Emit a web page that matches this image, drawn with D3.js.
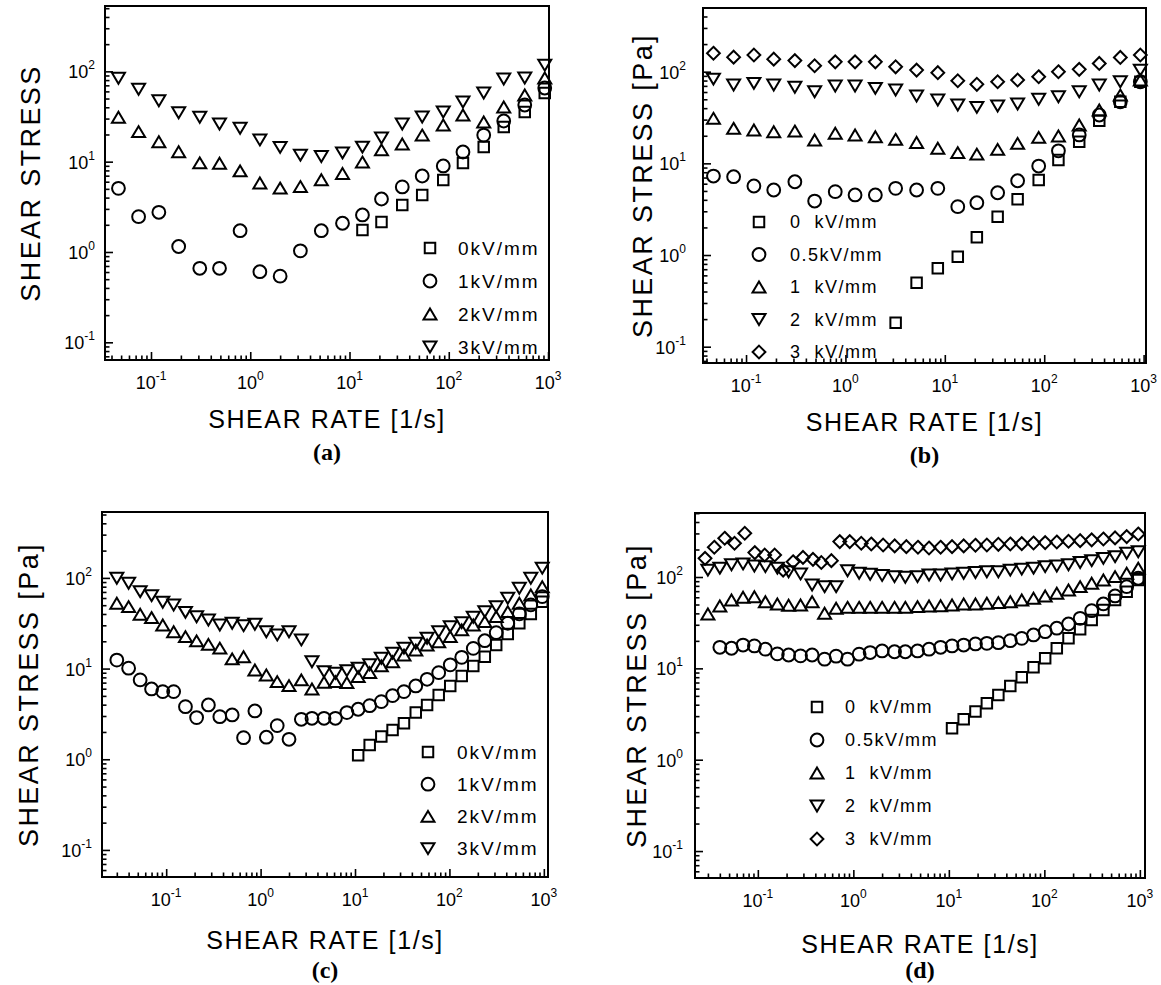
<!DOCTYPE html>
<html><head><meta charset="utf-8">
<script src="https://cdn.jsdelivr.net/npm/d3@7/dist/d3.min.js"></script>
<style>
body{margin:0;background:#fff;}
svg{display:block;background:#fff;}
text{font-family:"Liberation Sans",Arial,Helvetica,sans-serif;fill:#000;}
</style></head><body>
<svg id="chart" width="1161" height="985"></svg>
<script>
// ---------------- DATA ----------------
// shear rate grids [1/s]
const rateAB = [0.047, 0.075, 0.12, 0.19, 0.31, 0.49, 0.79, 1.25, 2.0, 3.2, 5.2, 8.5, 13.5, 21, 34, 54, 88, 139, 225, 358, 583, 927];
const rateCD = [0.030, 0.040, 0.053, 0.070, 0.092, 0.12, 0.16, 0.21, 0.28, 0.37, 0.50, 0.66, 0.87, 1.15, 1.5, 2.0, 2.7, 3.5, 4.7, 6.2, 8.2, 10.8, 14.3, 19, 25, 33, 44, 58, 77, 102, 135, 179, 237, 313, 415, 550, 728, 962];
const rateD3 = [0.028, 0.035, 0.045, 0.057, 0.073, 0.093, 0.118, 0.150, 0.184, 0.234, 0.297, 0.378, 0.462, 0.589, 0.721, 0.917, 1.21, 1.54, 2.05, 2.71, 3.59, 4.75, 6.2, 8.2, 10.8, 14.3, 19, 25, 33, 44, 58, 77, 102, 135, 179, 237, 313, 415, 550, 728, 962];

// panel (a) shear stress
const stressA0 = [null, null, null, null, null, null, null, null, null, null, null, null, 1.75, 2.15, 3.31, 4.27, 6.27, 9.67, 14.5, 24.2, 35.5, 57.6];
const stressA1 = [5.07, 2.46, 2.75, 1.15, 0.66, 0.66, 1.72, 0.605, 0.54, 1.03, 1.72, 2.08, 2.57, 3.86, 5.25, 6.94, 8.96, 12.8, 19.7, 28.2, 42.4, 65.4];
const stressA2 = [31, 21.5, 16.6, 12.9, 9.7, 9.6, 7.9, 5.8, 5.1, 5.3, 6.3, 7.4, 9.9, 13.5, 15.7, 19.7, 25.5, 32.9, 27.5, 40.3, 54.7, 84.4];
const stressA3 = [83.7, 63.3, 47.3, 34.8, 31, 26.1, 23.4, 17.4, 14.4, 11.8, 11.4, 12.5, 14.5, 18.3, 26.1, 31.2, 35.5, 45.8, 57.6, 82.2, 84.4, 117];

// panel (b)
const stressB0 = [null, null, null, null, null, null, null, null, null, 0.183, 0.499, 0.716, 0.958, 1.56, 2.62, 4.05, 6.58, 10.9, 17.2, 29.2, 47, 77.6];
const stressB1 = [7.27, 7.15, 5.66, 5.12, 6.3, 3.88, 4.91, 4.52, 4.52, 5.34, 5.12, 5.34, 3.37, 3.72, 4.78, 6.46, 9.35, 13.7, 20.4, 33.7, 47, 77.6];
const stressB2 = [31, 24.1, 23.1, 22.1, 22.5, 18, 21.3, 20.4, 19.5, 18.3, 16.9, 14.6, 13.1, 12.6, 14.2, 16.5, 19.2, 19.9, 26.2, 38.2, 55.6, 81.1];
const stressB3 = [83, 71.5, 74.6, 71.5, 67.5, 60.4, 69.8, 69.8, 65.8, 63.1, 54.2, 49.1, 43.3, 40.8, 42.2, 44.4, 50, 53.3, 60.4, 71.5, 77.6, 104];
const stressB4 = [159, 144, 152, 137, 132, 116, 128, 128, 128, 113, 104, 97.5, 79.6, 72.8, 77.6, 81.1, 88.1, 99.9, 106, 123, 143, 152];

// panel (c)
const stressC0 = [null, null, null, null, null, null, null, null, null, null, null, null, null, null, null, null, null, null, null, null, null, 1.11, 1.44, 1.78, 2.1, 2.49, 3.27, 3.97, 5.12, 6.43, 8.3, 10.7, 13.5, 18.2, 24.1, 31.6, 40.1, 54.7];
const stressC1 = [12.4, 10.1, 7.5, 5.96, 5.57, 5.57, 3.8, 2.88, 3.97, 2.95, 3.08, 1.73, 3.41, 1.75, 2.35, 1.66, 2.76, 2.83, 2.83, 2.83, 3.27, 3.56, 3.9, 4.32, 5.03, 5.57, 6.43, 7.62, 9.02, 11, 13.3, 16.7, 20.3, 24.9, 31.6, 40.1, 50.4, 62.2];
const stressC2 = [52.6, 48.2, 39.7, 36.5, 30.3, 25.5, 22.5, 20.2, 18.5, 16.8, 12.8, 13.5, 9.66, 8.5, 7.18, 6.49, 7.5, 5.96, 7.07, 7.18, 7.0, 8.15, 9.02, 10.7, 11.9, 14.1, 16, 18.2, 19.8, 22.5, 26.7, 30.3, 33, 37.4, 42.5, 52.5, 64.9, 80];
const stressC3 = [99.1, 87.3, 70.5, 63.7, 53.8, 50.2, 41.7, 37.3, 34.3, 30.2, 31.6, 29.7, 30.8, 25.5, 23.5, 25.5, 20.7, 11.9, 9.25, 8.89, 9.49, 10.1, 11, 13, 14.8, 16.8, 19, 21.6, 25.5, 29, 32.1, 36.8, 42.5, 48.2, 59.7, 76.9, 99.1, 128];

// panel (d)
const stressD0 = [null, null, null, null, null, null, null, null, null, null, null, null, null, null, null, null, null, null, null, null, null, 2.21, 2.77, 3.36, 4.15, 5.11, 6.41, 7.98, 10.3, 12.9, 16.6, 21.3, 26.8, 33.9, 43.6, 56.1, 69.1, 92.9];
const stressD1 = [null, 17, 16.6, 18, 17.6, 16.2, 14.4, 14, 13.7, 14, 12.6, 13.6, 12.6, 14.3, 14.9, 15.5, 15.2, 15.2, 15.5, 16.2, 17, 17.6, 18, 18.5, 18.8, 19.1, 20.1, 21.3, 23.2, 25.2, 27.5, 30.6, 35.3, 42.8, 50.7, 62, 78.4, 96.9];
const stressD2 = [39.4, 48.2, 56.1, 60, 60.9, 53.7, 50.7, 49.1, 49.4, 53.7, 40.1, 45.5, 46.6, 46.6, 46.6, 46.6, 46.6, 46.6, 47.4, 48.2, 48.5, 49.4, 50.7, 50.7, 51.6, 52.4, 53.7, 56.1, 58.5, 62, 66.4, 72.1, 78.4, 85.4, 92.9, 101, 110, 125];
const stressD3 = [119, 125, 136, 139, 132, 130, 125, 114, 108, 81.8, 78.4, 78.4, 117, 110, 107, 104, 101, 99.4, 101, 105, 105, 108, 110, 112, 114, 114, 119, 122, 125, 130, 132, 136, 144, 151, 160, 167, 182, 189];
const stressD4 = [160, 212, 266, 234, 301, 185, 174, 174, 119, 147, 164, 156, 144, 151, 244, 244, 234, 230, 224, 219, 215, 212, 208, 212, 215, 219, 223, 224, 228, 230, 232, 236, 238, 242, 246, 250, 255, 261, 268, 277, 296];

// legends and tick labels
const legendAC = ["0kV/mm", "1kV/mm", "2kV/mm", "3kV/mm"];
const legendBD = ["0  kV/mm", "0.5kV/mm", "1  kV/mm", "2  kV/mm", "3  kV/mm"];
const xTickValues = [0.1, 1, 10, 100, 1000];
const xTickExp = ["-1", "0", "1", "2", "3"];
const yTickValues = [0.1, 1, 10, 100];
const yTickExp = ["-1", "0", "1", "2"];
const xTitle = "SHEAR RATE [1/s]";
const yTitleA = "SHEAR STRESS";
const yTitleBCD = "SHEAR STRESS [Pa]";
const subLabels = ["(a)", "(b)", "(c)", "(d)"];

// ---------------- SYMBOLS ----------------
const symSquare = {draw(c, s){ const h = s/2; c.moveTo(-h,-h); c.lineTo(h,-h); c.lineTo(h,h); c.lineTo(-h,h); c.closePath(); }};
const symCircle = {draw(c, s){ const r = s/2; c.moveTo(r,0); c.arc(0,0,r,0,2*Math.PI); c.closePath(); }};
const symUp = {draw(c, s){ const w = s/2, h = s*0.84/2; c.moveTo(0,-h); c.lineTo(w,h); c.lineTo(-w,h); c.closePath(); }};
const symDown = {draw(c, s){ const w = s/2, h = s*0.84/2; c.moveTo(0,h); c.lineTo(w,-h); c.lineTo(-w,-h); c.closePath(); }};
const symDiamond = {draw(c, s){ const h = s/2; c.moveTo(0,-h); c.lineTo(h,0); c.lineTo(0,h); c.lineTo(-h,0); c.closePath(); }};
const symTypes = [symSquare, symCircle, symUp, symDown, symDiamond];
const symSizes = [10.5, 12.8, 13, 13, 12.8];

// ---------------- PANELS ----------------
const panels = [
  {l:105, r:549, t:6, b:360, xd:[0.0344,1023], yd:[0.0637,529], ytitle:yTitleA, ytx:31, xty:419, suby:452, ylabGap:10,
   legend:legendAC, lfs:19, lls:2, lsx:430, ltx:458, ly0:248, ldy:33,
   series:[[rateAB,stressA0],[rateAB,stressA1],[rateAB,stressA2],[rateAB,stressA3]]},
  {l:703, r:1146, t:8, b:363, xd:[0.0369,1057], yd:[0.0664,495], ytitle:yTitleBCD, ytx:643, xty:422, suby:455, ylabGap:17,
   legend:legendBD, lfs:18, lls:1.5, lsx:759, ltx:790, ly0:222, ldy:32.5,
   series:[[rateAB,stressB0],[rateAB,stressB1],[rateAB,stressB2],[rateAB,stressB3],[rateAB,stressB4]]},
  {l:102, r:548, t:512, b:877, xd:[0.0209,1107], yd:[0.0503,533], ytitle:yTitleBCD, ytx:29, xty:940, suby:970, ylabGap:10,
   legend:legendAC, lfs:19, lls:2, lsx:428, ltx:457, ly0:752, ldy:32.2,
   series:[[rateCD,stressC0],[rateCD,stressC1],[rateCD,stressC2],[rateCD,stressC3]]},
  {l:695, r:1145, t:513, b:878, xd:[0.02198,1132], yd:[0.0507,502], ytitle:yTitleBCD, ytx:637, xty:944, suby:970, ylabGap:12,
   legend:legendBD, lfs:18, lls:1.5, lsx:817, ltx:845, ly0:707, ldy:33,
   series:[[rateCD,stressD0],[rateCD,stressD1],[rateCD,stressD2],[rateCD,stressD3],[rateD3,stressD4]]}
];

const svg = d3.select("#chart");

function minorTicks(dom){
  const out = [];
  for (let e = -3; e <= 3; e++) for (let m = 2; m <= 9; m++) {
    const v = m * Math.pow(10, e);
    if (v > dom[0] && v < dom[1]) out.push(v);
  }
  return out;
}

panels.forEach((p, pi) => {
  const g = svg.append("g");
  const x = d3.scaleLog().domain(p.xd).range([p.l, p.r]);
  const y = d3.scaleLog().domain(p.yd).range([p.b, p.t]);

  const tickStyle = sel => { sel.select(".domain").remove(); sel.selectAll("line").attr("stroke","#000").attr("stroke-width",1.6); };
  g.append("g").attr("transform",`translate(0,${p.b})`)
    .call(d3.axisBottom(x).tickValues(minorTicks(p.xd)).tickSize(-4.5).tickSizeOuter(0).tickFormat(""))
    .call(tickStyle);
  g.append("g").attr("transform",`translate(0,${p.b})`)
    .call(d3.axisBottom(x).tickValues(xTickValues).tickSize(-8).tickSizeOuter(0).tickFormat(""))
    .call(tickStyle);
  g.append("g").attr("transform",`translate(${p.l},0)`)
    .call(d3.axisLeft(y).tickValues(minorTicks(p.yd)).tickSize(-4.5).tickSizeOuter(0).tickFormat(""))
    .call(tickStyle);
  g.append("g").attr("transform",`translate(${p.l},0)`)
    .call(d3.axisLeft(y).tickValues(yTickValues).tickSize(-8).tickSizeOuter(0).tickFormat(""))
    .call(tickStyle);

  g.append("rect").attr("x",p.l).attr("y",p.t).attr("width",p.r-p.l).attr("height",p.b-p.t)
    .attr("fill","none").attr("stroke","#000").attr("stroke-width",2);

  xTickValues.forEach((v,i) => {
    const t = g.append("text").attr("x", x(v)).attr("y", p.b + 29).attr("text-anchor","middle").attr("font-size",18);
    t.append("tspan").text("10");
    t.append("tspan").attr("dy",-9).attr("font-size",12).text(xTickExp[i]);
  });
  yTickValues.forEach((v,i) => {
    const t = g.append("text").attr("x", p.l - p.ylabGap).attr("y", y(v) + 7).attr("text-anchor","end").attr("font-size",18);
    t.append("tspan").text("10");
    t.append("tspan").attr("dy",-9).attr("font-size",12).text(yTickExp[i]);
  });

  g.append("text").attr("x",(p.l+p.r)/2).attr("y",p.xty).attr("dy","0.35em").attr("text-anchor","middle")
    .attr("font-size",25).attr("letter-spacing","1.6px").text(xTitle);
  g.append("text").attr("transform",`translate(${p.ytx},${(p.t+p.b)/2}) rotate(-90)`).attr("dy","0.35em")
    .attr("text-anchor","middle").attr("font-size",27).attr("letter-spacing","2.4px").text(p.ytitle);
  g.append("text").attr("x",(p.l+p.r)/2).attr("y",p.suby).attr("dy","0.35em").attr("text-anchor","middle")
    .style("font-family","'Liberation Serif','Times New Roman',serif").attr("font-weight","bold").attr("font-size",24)
    .text(subLabels[pi]);

  p.series.forEach((s, si) => {
    const pts = s[0].map((xv, k) => ({x: xv, y: s[1][k]})).filter(d => d.y != null);
    const sym = d3.symbol().type(symTypes[si]).size(symSizes[si]);
    g.append("g").selectAll("path").data(pts).join("path")
      .attr("transform", d => `translate(${x(d.x)},${y(d.y)})`)
      .attr("d", sym).attr("fill","none").attr("stroke","#000").attr("stroke-width",2);
  });

  p.legend.forEach((lab, i) => {
    const yy = p.ly0 + i * p.ldy;
    g.append("path").attr("transform",`translate(${p.lsx},${yy})`)
      .attr("d", d3.symbol().type(symTypes[i]).size(symSizes[i])).attr("fill","none").attr("stroke","#000").attr("stroke-width",2);
    g.append("text").attr("x",p.ltx).attr("y",yy).attr("dy","0.35em").attr("font-size",p.lfs)
      .attr("letter-spacing",p.lls + "px").style("white-space","pre").text(lab);
  });
});
</script>
</body></html>
